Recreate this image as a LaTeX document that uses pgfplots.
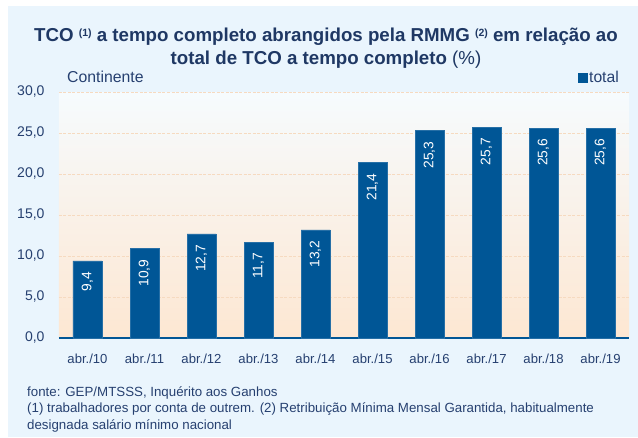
\documentclass[border=0pt]{standalone}
\usepackage{pgfplots}
\pgfplotsset{compat=1.18}
\usepackage{fontspec}
\setmainfont{Liberation Sans}
\definecolor{panelbg}{RGB}{234,245,253}
\definecolor{titleblue}{RGB}{31,56,100}
\definecolor{txtblue}{RGB}{38,64,112}
\definecolor{barblue}{RGB}{0,86,150}
\definecolor{gradtop}{RGB}{246,251,254}
\definecolor{gradbot}{RGB}{253,231,210}
\definecolor{gridpeach}{RGB}{246,218,192}
\pgfplotstableread{
x val
0 9.4
1 10.9
2 12.7
3 11.7
4 13.2
5 21.4
6 25.3
7 25.7
8 25.6
9 25.6
}\tco
\begin{document}
\begin{tikzpicture}
\path[use as bounding box, fill=white] (0pt,0pt) rectangle (638pt,437pt);
\fill[panelbg] (8pt,0pt) rectangle (638pt,431pt);
\node[anchor=base, text=titleblue, inner sep=0pt] at (326pt,395.5pt)
 {\fontsize{18.7}{22}\selectfont\bfseries TCO \raisebox{5pt}{\fontsize{10.5}{12}\selectfont (1)} a tempo completo abrangidos pela RMMG \raisebox{5pt}{\fontsize{10.5}{12}\selectfont (2)} em relação ao};
\node[anchor=base, text=titleblue, inner sep=0pt] at (326pt,372pt)
 {\fontsize{18.7}{22}\selectfont\bfseries total de TCO a tempo completo \mdseries(\%)};
\node[anchor=base west, text=txtblue, inner sep=0pt] at (67pt,354pt)
 {\fontsize{15.8}{18}\selectfont Continente};
\begin{axis}[
  at={(59pt,99pt)}, anchor=south west,
  scale only axis, width=570pt, height=246pt,
  ymin=0, ymax=30, xmin=-0.5, xmax=9.5,
  ybar, bar width=29pt,
  axis x line=bottom, axis y line=left,
  x axis line style={draw=barblue, line width=1.2pt, -},
  y axis line style={draw=none},
  major tick length=0pt,
  xtick={0,...,9},
  xticklabels={abr./10,abr./11,abr./12,abr./13,abr./14,abr./15,abr./16,abr./17,abr./18,abr./19},
  ytick={0,5,...,30},
  yticklabel={\pgfmathprintnumber[fixed,fixed zerofill,precision=1,use comma]{\tick}},
  /pgf/number format/assume math mode=true,
  yticklabel style={font=\fontsize{14}{16}\selectfont, text=txtblue, xshift=-11pt},
  xticklabel style={font=\fontsize{13.1}{15}\selectfont, text=txtblue, anchor=base, yshift=-25pt, inner sep=0pt},
  ymajorgrids,
  grid style={draw=gridpeach, dash pattern=on 3pt off 1.5pt, line width=0.6pt},
  axis background/.style={top color=gradtop, bottom color=gradbot},
  nodes near coords={\pgfmathprintnumber[fixed,fixed zerofill,precision=1,use comma,assume math mode=true]{\pgfplotspointmeta}},
  every node near coord/.append style={rotate=90, anchor=east, text=white, font=\fontsize{13.8}{15}\selectfont, inner sep=0pt, outer xsep=11pt},
  legend style={at={(1,1)}, anchor=east, xshift=-8pt, yshift=14.5pt, draw=none, fill=none, inner sep=0pt, font=\fontsize{15.7}{18}\selectfont, text=txtblue, legend cell align=left},
  legend image code/.code={\fill[barblue] (0pt,-4.5pt) rectangle (9pt,4.5pt);},
  clip=false,
]
\addplot[fill=barblue, draw=barblue!85!white, line width=0.5pt] table[x=x, y=val] {\tco};
\addlegendentry{total}
\end{axis}
\node[anchor=base west, text=txtblue, inner sep=0pt] at (27pt,41pt)
 {\fontsize{13.3}{15}\selectfont fonte: GEP/MTSSS, Inquérito aos Ganhos};
\node[anchor=base west, text=txtblue, inner sep=0pt] at (27pt,24pt)
 {\fontsize{13.3}{15}\selectfont (1) trabalhadores por conta de outrem. (2) Retribuição Mínima Mensal Garantida, habitualmente};
\node[anchor=base west, text=txtblue, inner sep=0pt] at (27pt,8pt)
 {\fontsize{13.3}{15}\selectfont designada salário mínimo nacional};
\end{tikzpicture}
\end{document}
